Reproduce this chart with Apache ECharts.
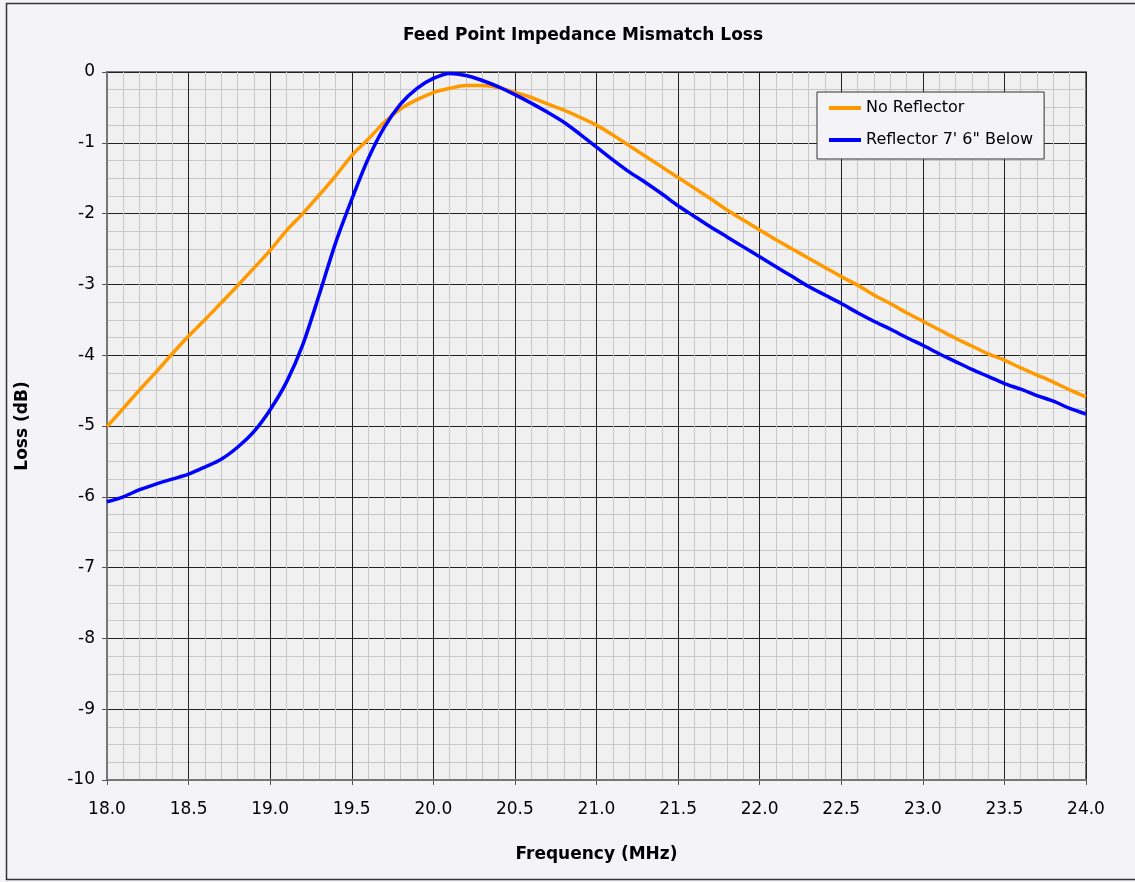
<!DOCTYPE html>
<html>
<head>
<meta charset="utf-8">
<script src="https://cdn.jsdelivr.net/npm/echarts@6/dist/echarts.min.js"></script>
<style>
html,body{margin:0;padding:0;background:#f4f4f6;}
#chart{width:1135px;height:882px;}
</style>
</head>
<body>
<div id="chart"></div>
<script>
const freq = [18.0,18.1,18.2,18.3,18.4,18.5,18.6,18.7,18.8,18.9,
  19.0,19.1,19.2,19.3,19.4,19.5,19.6,19.7,19.8,19.9,
  20.0,20.1,20.2,20.3,20.4,20.5,20.6,20.7,20.8,20.9,
  21.0,21.1,21.2,21.3,21.4,21.5,21.6,21.7,21.8,21.9,
  22.0,22.1,22.2,22.3,22.4,22.5,22.6,22.7,22.8,22.9,
  23.0,23.1,23.2,23.3,23.4,23.5,23.6,23.7,23.8,23.9,24.0];
const noReflector = [-5.01,-4.75,-4.49,-4.24,-3.98,-3.73,-3.50,-3.26,-3.02,-2.77,
  -2.52,-2.24,-2.00,-1.74,-1.47,-1.18,-0.95,-0.71,-0.52,-0.39,
  -0.29,-0.23,-0.19,-0.19,-0.22,-0.29,-0.36,-0.45,-0.54,-0.64,
  -0.75,-0.89,-1.04,-1.19,-1.34,-1.49,-1.64,-1.79,-1.95,-2.09,
  -2.23,-2.37,-2.50,-2.63,-2.76,-2.89,-3.01,-3.15,-3.27,-3.40,
  -3.52,-3.64,-3.76,-3.87,-3.98,-4.07,-4.18,-4.28,-4.38,-4.49,-4.59];
const reflectorBelow = [-6.07,-6.00,-5.90,-5.82,-5.75,-5.68,-5.58,-5.47,-5.30,-5.08,
  -4.77,-4.38,-3.85,-3.15,-2.42,-1.80,-1.23,-0.78,-0.45,-0.23,
  -0.09,-0.02,-0.05,-0.12,-0.21,-0.32,-0.44,-0.57,-0.71,-0.88,
  -1.06,-1.24,-1.41,-1.56,-1.72,-1.89,-2.04,-2.19,-2.33,-2.47,
  -2.61,-2.75,-2.89,-3.03,-3.15,-3.27,-3.40,-3.52,-3.63,-3.75,
  -3.86,-3.98,-4.09,-4.20,-4.30,-4.40,-4.48,-4.57,-4.65,-4.75,-4.83];
const seriesNames = ['No Reflector', 'Reflector 7\' 6" Below'];
const chartTitle = 'Feed Point Impedance Mismatch Loss';
const xName = 'Frequency (MHz)';
const yName = 'Loss (dB)';

const FONT = '"DejaVu Sans", Verdana, sans-serif';
const chart = echarts.init(document.getElementById('chart'), null, {renderer:'canvas'});
const pairs = arr => freq.map((f,i)=>[f, arr[i]]);

chart.setOption({
  backgroundColor: '#f4f4f6',
  animation: false,
  textStyle: {fontFamily: FONT},
  graphic: [
    {type:'rect', shape:{x:6.5, y:3.5, width:1140, height:876}, style:{fill:'none', stroke:'#333', lineWidth:1.5}, silent:true},
    {type:'text', x:583, y:36, style:{text: chartTitle, font:'bold 17px ' + FONT, fill:'#000', textAlign:'center', textVerticalAlign:'middle'}}
  ],
  grid: {left:107, top:72, right:49, bottom:102, show:true, backgroundColor:'#f0f0f0', borderColor:'#777', borderWidth:2},
  legend: {
    orient:'vertical', left:817, top:92,
    padding:[8, 11, 11, 12], itemGap:16,
    itemWidth:32, itemHeight:4, icon:'rect',
    backgroundColor:'#f4f4f6', borderColor:'#333', borderWidth:1,
    textStyle:{fontSize:16, color:'#000', fontFamily:FONT, lineHeight:16}
  },
  xAxis: {
    type:'value', min:18, max:24, interval:0.5,
    name:xName, nameLocation:'middle', nameGap:66,
    nameTextStyle:{fontWeight:'bold', fontSize:17, color:'#000', fontFamily:FONT},
    axisLine:{show:true, onZero:false, lineStyle:{color:'#777', width:2}},
    axisTick:{show:true, length:5, lineStyle:{color:'#555'}},
    axisLabel:{fontSize:17, color:'#000', margin:21, formatter: v => v.toFixed(1)},
    splitLine:{show:true, lineStyle:{color:'#222', width:1}},
    minorTick:{show:false, splitNumber:5},
    minorSplitLine:{show:true, lineStyle:{color:'#c8c8c8', width:1}}
  },
  yAxis: {
    type:'value', min:-10, max:0, interval:1,
    name:yName, nameLocation:'middle', nameGap:76, nameRotate:90,
    nameTextStyle:{fontWeight:'bold', fontSize:17, color:'#000', fontFamily:FONT},
    axisLine:{show:true, lineStyle:{color:'#777', width:2}},
    axisTick:{show:true, length:5, lineStyle:{color:'#555'}},
    axisLabel:{fontSize:17, color:'#000', margin:12},
    splitLine:{show:true, lineStyle:{color:'#222', width:1}},
    minorTick:{show:false, splitNumber:4},
    minorSplitLine:{show:true, lineStyle:{color:'#c8c8c8', width:1}}
  },
  series: [
    {name:seriesNames[0], type:'line', data:pairs(noReflector), smooth:0.3, showSymbol:false, symbol:'none',
     lineStyle:{color:'#ff9900', width:3.5}, itemStyle:{color:'#ff9900'}},
    {name:seriesNames[1], type:'line', data:pairs(reflectorBelow), smooth:0.3, showSymbol:false, symbol:'none',
     lineStyle:{color:'#0000ff', width:3.5}, itemStyle:{color:'#0000ff'}}
  ]
});
</script>
</body>
</html>
